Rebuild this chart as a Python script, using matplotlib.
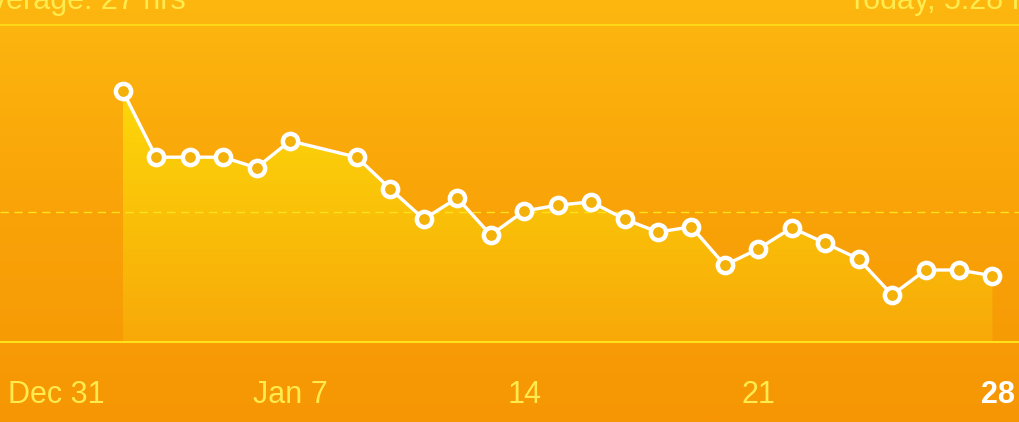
import numpy as np
import matplotlib
matplotlib.use("Agg")
import matplotlib.pyplot as plt
from matplotlib.colors import LinearSegmentedColormap

# Data: day index (Dec 31 = 0, Jan d = d), values
days = [2, 3, 4, 5, 6, 7, 9, 10, 11, 12, 13, 14, 15, 16, 17, 18, 19, 20, 21, 22, 23, 24, 25, 26, 27, 28]
values = [52.3, 38.5, 38.5, 38.5, 36.3, 41.9, 38.5, 31.9, 25.6, 30.0, 22.3, 27.3, 28.5, 29.2, 25.6,
          22.9, 24.0, 16.0, 19.4, 23.8, 20.6, 17.3, 9.8, 15.0, 15.0, 13.8]
tick_days = [0, 7, 14, 21, 28]
tick_labels = ["Dec 31", "Jan 7", "14", "21", "28"]
header_left = "Average: 27 hrs"
header_right = "Today, 5:28 PM"
y_top, y_bottom = 66.0, 0.0

W, H = 1019, 422
fig = plt.figure(figsize=(W / 100, H / 100), dpi=100)
ax = fig.add_axes([0, 0, 1, 1])
ax.set_axis_off()

px_per_day = 33.45
x0 = 7 - 290 / px_per_day
x1 = x0 + W / px_per_day
px_per_unit = 4.8
ymin = -(H - 342) / px_per_unit
ymax = 342 / px_per_unit

# background gradient
bg = LinearSegmentedColormap.from_list("bg", ["#F69604", "#F9A308", "#FDB70F"])
grad = np.linspace(0, 1, 256).reshape(-1, 1)
ax.imshow(grad, extent=[x0, x1, ymin, ymax], origin="lower", aspect="auto", cmap=bg, zorder=0)

# fill gradient clipped to area
fg = LinearSegmentedColormap.from_list("fg", ["#F8A908", "#FAC009", "#FCD80A"])
im = ax.imshow(grad, extent=[days[0], days[-1], y_bottom, max(values)], origin="lower",
               aspect="auto", cmap=fg, zorder=1)
poly = ax.fill_between(days, values, y_bottom, color="none", lw=0, zorder=1)
im.set_clip_path(poly.get_paths()[0], transform=ax.transData)
ax.set_xlim(x0, x1)
ax.set_ylim(ymin, ymax)

# grid lines
ax.axhline(y_top, color="#FFE01A", lw=1.2, zorder=2)
ax.axhline(y_bottom, color="#FFE01A", lw=1.5, zorder=2)
avg = np.mean(values)
ax.axhline(avg, color="#FFE21A", lw=1.0, ls=(0, (6, 4)), zorder=2)

# line + markers
ax.plot(days, values, color="white", lw=2.4, zorder=3, solid_joinstyle="round")
ax.plot(days, values, ls="none", marker="o", ms=11, mfc="#F3B10A", mec="white", mew=3.2, zorder=4)

# tick labels
lab_y = (342 - 395) / px_per_unit
for d, t in zip(tick_days, tick_labels):
    col = "white" if t == "28" else "#FFEB4D"
    ha = "center"
    xx = d
    if t == "Dec 31":
        xx = 8 / px_per_day + x0
        ha = "left"
    if t == "28":
        xx = x0 + 1015 / px_per_day
        ha = "right"
    ax.text(xx, lab_y, t, color=col, fontsize=22, family="Liberation Sans", ha=ha, va="center",
            fontweight="bold" if t == "28" else "normal", zorder=5)

# header texts (cropped at the top edge, as in the reference)
fig.text(186 / W, 1 - 9 / H, header_left, color="#FFEB4D", fontsize=22,
         family="Liberation Sans", ha="right", va="baseline")
fig.text(848 / W, 1 - 9 / H, header_right, color="#FFEB4D", fontsize=22,
         family="Liberation Sans", ha="left", va="baseline")

fig.savefig("out.png", dpi=100)
